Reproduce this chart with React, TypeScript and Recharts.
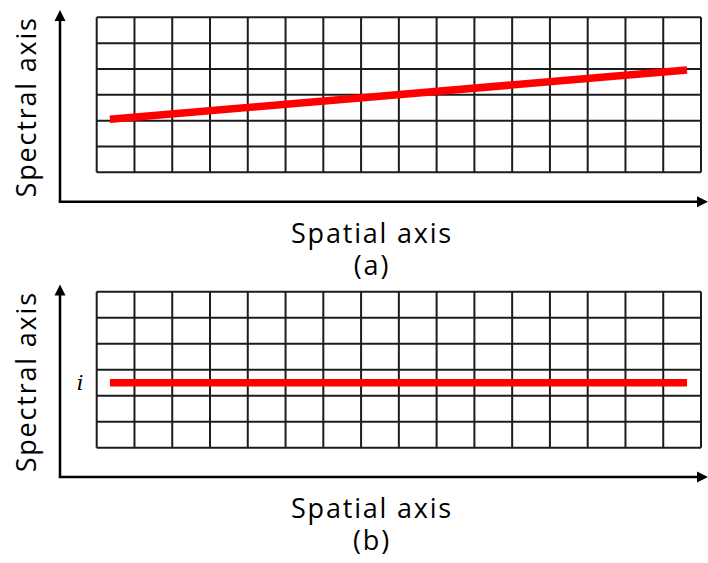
import React from 'react';
import * as R from 'recharts';

const { LineChart, Line, XAxis, YAxis, CartesianGrid } = R;

// Pixel-cell grid: 16 spatial columns by 6 spectral rows
const spatialTicks = [0, 1, 2, 3, 4, 5, 6, 7, 8, 9, 10, 11, 12, 13, 14, 15, 16];
const spectralTicks = [0, 1, 2, 3, 4, 5, 6];

// Dispersed spectral line before correction (tilted across the detector)
const tiltedTrace = [
  { spatial: 0.35, spectral: 2.05 },
  { spatial: 15.63, spectral: 3.96 },
];

// Same spectral line after correction (constant row i)
const straightTrace = [
  { spatial: 0.35, spectral: 2.5 },
  { spatial: 15.63, spectral: 2.5 },
];

const xTitle = 'Spatial axis';
const yTitle = 'Spectral axis';
const panelCaptions = ['(a)', '(b)'];
const rowMark = 'i';
const rowMarkValue = 2.5;

const FONT = "'Open Sans', 'Noto Sans', sans-serif";
const W = 708;

const titleStyle = {
  fontFamily: FONT,
  fontSize: 27,
  letterSpacing: 1.8,
  fill: '#000',
};

type FrameProps = {
  caption: string;
  showRow?: boolean;
  fallback: { x: number; y: number; width: number; height: number };
};

// Axis arrows, titles and captions placed relative to the plot area
function Frame({ caption, showRow, fallback }: FrameProps) {
  const hook = (R as any).usePlotArea;
  const area = (hook ? hook() : null) || fallback;
  const left = area.x;
  const top = area.y;
  const bottom = area.y + area.height;
  const axisX = left - 36.7;
  const axisY = bottom + 29.4;
  const tipY = top - 7.3;
  const tipX = W;
  const midY = (tipY + axisY) / 2;
  const titleCx = 372;
  const rowY = top + area.height * (1 - rowMarkValue / 6);
  return (
    <g>
      <line x1={axisX} y1={axisY} x2={axisX} y2={tipY + 8} stroke="#000" strokeWidth={2.5} />
      <polygon points={`${axisX},${tipY} ${axisX - 5.5},${tipY + 11} ${axisX + 5.5},${tipY + 11}`} fill="#000" />
      <line x1={axisX - 1.25} y1={axisY} x2={tipX - 8} y2={axisY} stroke="#000" strokeWidth={2.5} />
      <polygon points={`${tipX},${axisY} ${tipX - 11},${axisY - 5.5} ${tipX - 11},${axisY + 5.5}`} fill="#000" />
      <text
        x={25.5}
        y={midY + 1}
        transform={`rotate(-90 25.5 ${midY + 1})`}
        textAnchor="middle"
        dominantBaseline="central"
        style={titleStyle}
      >
        {yTitle}
      </text>
      <text x={titleCx} y={axisY + 41} textAnchor="middle" style={titleStyle}>
        {xTitle}
      </text>
      <text x={titleCx} y={axisY + 73} textAnchor="middle" style={titleStyle}>
        {caption}
      </text>
      {showRow && (
        <text
          x={80}
          y={rowY}
          textAnchor="middle"
          dominantBaseline="central"
          fontFamily="'DejaVu Serif', 'Liberation Serif', serif"
          fontStyle="italic"
          fontSize={21}
          fill="#000"
        >
          {rowMark}
        </text>
      )}
    </g>
  );
}

type PanelProps = {
  data: { spatial: number; spectral: number }[];
  caption: string;
  showRow?: boolean;
  top: number;
  height: number;
  margin: { top: number; right: number; bottom: number; left: number };
};

function Panel({ data, caption, showRow, top, height, margin }: PanelProps) {
  const fallback = {
    x: margin.left,
    y: margin.top,
    width: W - margin.left - margin.right,
    height: height - margin.top - margin.bottom,
  };
  return (
    <div style={{ position: 'absolute', left: 0, top }}>
      <LineChart width={W} height={height} data={data} margin={margin} style={{ overflow: 'visible' }}>
        <XAxis
          dataKey="spatial"
          type="number"
          domain={[0, 16]}
          ticks={spatialTicks}
          interval={0}
          hide
        />
        <YAxis type="number" domain={[0, 6]} ticks={spectralTicks} interval={0} hide />
        <CartesianGrid stroke="#1c1c1c" strokeWidth={2} />
        <Line
          dataKey="spectral"
          stroke="#ff0000"
          strokeWidth={7.5}
          strokeLinecap="butt"
          dot={false}
          activeDot={false}
          isAnimationActive={false}
        />
        <Frame caption={caption} showRow={showRow} fallback={fallback} />
      </LineChart>
    </div>
  );
}

export default function App() {
  return (
    <div style={{ position: 'absolute', left: 0, top: 0, width: W, height: 563, background: '#fff' }}>
      <Panel
        data={tiltedTrace}
        caption={panelCaptions[0]}
        top={0}
        height={285}
        margin={{ top: 17.3, right: 7, bottom: 112.7, left: 96.7 }}
      />
      <Panel
        data={straightTrace}
        caption={panelCaptions[1]}
        showRow
        top={275}
        height={288}
        margin={{ top: 16.7, right: 7, bottom: 115.3, left: 96.7 }}
      />
    </div>
  );
}
